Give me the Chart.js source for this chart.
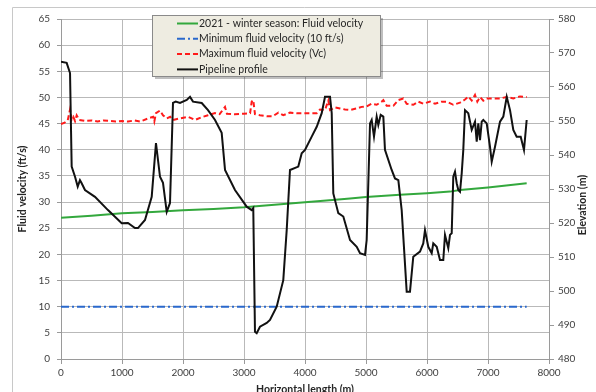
<!DOCTYPE html>
<html>
<head>
<meta charset="utf-8">
<script src="https://cdn.jsdelivr.net/npm/chart.js@4.4.0/dist/chart.umd.min.js"></script>
<style>
html,body{margin:0;padding:0;background:#fff;overflow:hidden;}
#wrap{position:relative;width:596px;height:392px;}
canvas{display:block;}
</style>
</head>
<body>
<div id="wrap"><canvas id="c" width="596" height="392"></canvas></div>
<script>
// ---- data ----
const seriesNames = ["2021 - winter season: Fluid velocity", "Minimum fluid velocity (10 ft/s)", "Maximum fluid velocity (Vc)", "Pipeline profile"];
const xTitle = "Horizontal length (m)";
const yTitle = "Fluid velocity (ft/s)";
const y2Title = "Elevation (m)";

// [horizontal length m, fluid velocity ft/s]
const winterVelocity = [[0,27.0],[500,27.4],[1000,27.85],[1500,28.1],[2000,28.45],[2500,28.7],[3000,29.0],[3500,29.5],[4000,29.95],[4500,30.45],[4738,30.7],[5000,30.95],[5557,31.4],[6000,31.7],[6377,32.0],[6541,32.3],[7000,32.8],[7634,33.6]];
const minVelocity = [[0,10],[7634,10]];
const maxVelocity = [[0,44.9],[60,45.2],[110,45.6],[148,47.7],[175,45.8],[202,46.3],[230,45.5],[257,46.6],[300,45.7],[400,45.5],[500,45.6],[600,45.4],[700,45.6],[800,45.5],[900,45.4],[1000,45.5],[1100,45.4],[1200,45.6],[1300,45.4],[1431,46.0],[1510,46.3],[1530,45.4],[1557,47.0],[1623,47.5],[1672,46.6],[1733,46.0],[1790,46.3],[1836,45.7],[1950,46.0],[2082,46.3],[2197,45.7],[2300,46.2],[2410,46.6],[2525,47.0],[2600,46.8],[2689,48.2],[2720,46.9],[2850,46.8],[3000,46.9],[3100,47.0],[3126,49.2],[3152,49.5],[3180,46.8],[3262,46.6],[3372,46.4],[3470,46.4],[3563,47.1],[3644,46.6],[3754,47.1],[3863,47.0],[4028,47.0],[4192,47.0],[4246,47.7],[4328,47.6],[4383,49.4],[4410,47.6],[4492,48.1],[4574,47.9],[4656,47.7],[4738,47.6],[4848,47.9],[4929,48.2],[5011,48.3],[5093,48.8],[5175,48.6],[5257,49.2],[5284,49.5],[5339,48.4],[5448,48.4],[5530,49.5],[5612,49.8],[5667,48.8],[5776,48.6],[5858,49.2],[5940,48.8],[6049,49.2],[6131,48.8],[6240,49.2],[6322,49.2],[6431,48.6],[6541,49.0],[6623,49.6],[6677,50.2],[6733,49.4],[6787,50.5],[6825,49.2],[6869,50.1],[6923,49.4],[6979,49.8],[7088,49.8],[7197,49.8],[7307,50.1],[7415,49.8],[7525,50.2],[7634,50.1]];
// [horizontal length m, elevation m]
const pipelineProfile = [[0,567.4],[93,567.1],[148,564.1],[175,536.6],[230,533.6],[274,530.7],[311,532.6],[339,531.7],[393,529.7],[557,527.7],[770,523.8],[995,519.9],[1098,520],[1213,518.5],[1262,518.5],[1377,520.9],[1487,527.7],[1557,543.5],[1623,533.6],[1672,531.8],[1733,523.3],[1787,525.9],[1836,555.3],[1880,555.7],[1951,555.3],[2061,556.2],[2115,557.1],[2164,555.7],[2307,555.3],[2410,553.2],[2525,550.3],[2634,546.5],[2689,535.6],[2852,529.7],[3044,524.8],[3126,523.8],[3152,524.4],[3180,488],[3208,487.6],[3262,489.5],[3372,490.6],[3426,491.5],[3536,495.4],[3644,503.2],[3700,517.9],[3754,535.6],[3890,536.6],[3946,540.5],[4000,541.5],[4110,545.4],[4192,548.3],[4274,552.3],[4328,557.1],[4410,557.1],[4438,552.3],[4464,528.7],[4546,522.9],[4628,521.9],[4738,515],[4848,513],[4902,511.1],[4984,510.6],[5011,515],[5066,549.3],[5093,550.3],[5131,545.4],[5175,551.3],[5202,548.8],[5241,551.8],[5284,551.3],[5311,541.5],[5421,535.6],[5475,533.1],[5530,532.6],[5585,523.8],[5667,499.8],[5721,499.8],[5775,510.1],[5885,511.6],[5939,514],[5967,517.9],[6021,513],[6077,511.1],[6103,514],[6159,513],[6213,509.1],[6267,509.1],[6295,516.5],[6349,512.6],[6377,516.5],[6405,517],[6431,533.6],[6459,535.1],[6487,531.7],[6513,529.7],[6541,529.2],[6569,534.6],[6595,541.5],[6623,553.2],[6677,552.3],[6733,547.4],[6787,549.8],[6815,543.9],[6841,549.3],[6869,544.4],[6897,549.8],[6923,550.3],[6979,549.3],[7033,542.4],[7061,538],[7115,542.4],[7197,549.8],[7251,551.3],[7307,557.1],[7361,553.2],[7415,547.4],[7470,545.4],[7536,545.4],[7590,541.5],[7634,550.3]];

const xTicks = {min:0, max:8000, step:1000};
const yTicks = {min:0, max:65, step:5};
const y2Ticks = {min:480, max:580, step:10};

// ---- styles ----
const FONT = "'Lato',sans-serif";
const colors = {green:'#33a83d', blue:'#2a68cc', red:'#ff1a1a', black:'#111111'};
const dashes = {blue:[8,3,2,3], red:[5,3]};
const toXY = a => a.map(p => ({x:p[0], y:p[1]}));
const plain = v => String(v);

const legendPlugin = {
  id:'customLegend',
  afterDraw(chart){
    const ctx = chart.ctx;
    ctx.save();
    // outer chart border
    ctx.strokeStyle = '#c8c8c8'; ctx.lineWidth = 1;
    ctx.beginPath(); ctx.moveTo(12.5, 600); ctx.lineTo(12.5, 7.5); ctx.lineTo(700, 7.5); ctx.stroke();
    // right axis title (reads bottom to top)
    ctx.fillStyle = '#262626';
    ctx.font = "bold 10.5px " + FONT;
    ctx.textAlign = 'center'; ctx.textBaseline = 'middle';
    ctx.translate(583, 205); ctx.rotate(-Math.PI/2);
    ctx.fillText(y2Title, 0, 0);
    ctx.restore();

    ctx.save();
    const bx = 152, by = 15, bw = 228, bh = 61;
    ctx.fillStyle = 'rgba(0,0,0,0.25)';
    ctx.fillRect(bx+3, by+3, bw, bh);
    ctx.fillStyle = '#eeece1';
    ctx.fillRect(bx, by, bw, bh);
    ctx.strokeStyle = '#8a8a8a'; ctx.lineWidth = 1;
    ctx.strokeRect(bx+0.5, by+0.5, bw, bh);
    const rows = [
      {c:colors.green, d:[], t:seriesNames[0]},
      {c:colors.blue, d:dashes.blue, t:seriesNames[1]},
      {c:colors.red, d:dashes.red, t:seriesNames[2]},
      {c:colors.black, d:[], t:seriesNames[3]}
    ];
    ctx.font = "10.5px " + FONT;
    ctx.textAlign = 'left'; ctx.textBaseline = 'middle';
    rows.forEach((r,i) => {
      const y = 23.5 + i*15.3;
      ctx.strokeStyle = r.c; ctx.lineWidth = 2; ctx.setLineDash(r.d);
      ctx.beginPath(); ctx.moveTo(177, y); ctx.lineTo(198, y); ctx.stroke();
      ctx.setLineDash([]);
      ctx.fillStyle = '#262626';
      ctx.fillText(r.t, 199, y);
    });
    ctx.restore();
  }
};

const tickFont = {family:FONT, size:10};
const tickColor = '#404040';
const gridColor = '#b9b9b9';

new Chart(document.getElementById('c'), {
  type:'line',
  data:{
    datasets:[
      {label:seriesNames[3], data:toXY(pipelineProfile), yAxisID:'y1', borderColor:colors.black, borderWidth:2, pointRadius:0, tension:0, order:0},
      {label:seriesNames[2], data:toXY(maxVelocity), yAxisID:'y', borderColor:colors.red, borderWidth:2, borderDash:dashes.red, pointRadius:0, tension:0, order:1},
      {label:seriesNames[0], data:toXY(winterVelocity), yAxisID:'y', borderColor:colors.green, borderWidth:2, pointRadius:0, tension:0, order:2},
      {label:seriesNames[1], data:toXY(minVelocity), yAxisID:'y', borderColor:colors.blue, borderWidth:2, borderDash:dashes.blue, pointRadius:0, tension:0, order:3}
    ]
  },
  options:{
    responsive:false, animation:false, devicePixelRatio:1,
    layout:{padding:{top:19,left:0,right:0,bottom:0}},
    plugins:{legend:{display:false}, tooltip:{enabled:false}},
    scales:{
      x:{type:'linear', min:xTicks.min, max:xTicks.max,
         ticks:{stepSize:xTicks.step, color:tickColor, font:tickFont, padding:3, maxRotation:0, callback:plain},
         grid:{color:gridColor, tickLength:5, tickColor:'#9a9a9a'},
         border:{color:'#9a9a9a'},
         title:{display:true, text:xTitle, color:'#262626', font:{family:FONT, size:10.5, weight:'bold'}, padding:{top:0,bottom:-4}},
         afterFit(s){ s.height = 33; }},
      y:{type:'linear', position:'left', min:yTicks.min, max:yTicks.max,
         ticks:{stepSize:yTicks.step, color:tickColor, font:tickFont, padding:7, callback:plain},
         grid:{color:gridColor, tickLength:4, tickColor:'#9a9a9a'},
         border:{color:'#9a9a9a'},
         title:{display:true, text:yTitle, color:'#262626', font:{family:FONT, size:10.5, weight:'bold'}, padding:{top:16,bottom:0}},
         afterFit(s){ s.width = 61; }},
      y1:{type:'linear', position:'right', min:y2Ticks.min, max:y2Ticks.max,
         ticks:{stepSize:y2Ticks.step, color:tickColor, font:tickFont, padding:4, callback:plain},
         grid:{drawOnChartArea:false, tickLength:5, tickColor:'#9a9a9a'},
         border:{color:'#9a9a9a'},
         afterFit(s){ s.width = 47; }}
    }
  },
  plugins:[legendPlugin]
});
</script>
</body>
</html>
